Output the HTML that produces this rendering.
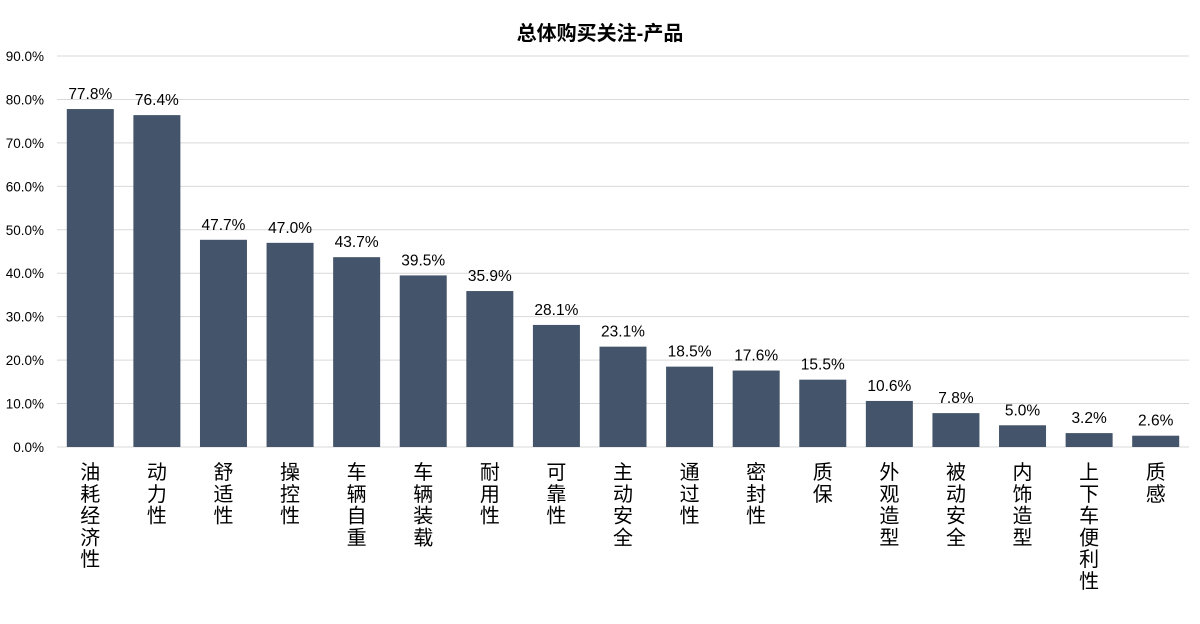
<!DOCTYPE html>
<html><head><meta charset="utf-8"><style>
body{margin:0;background:#fff}
svg text{font-family:"Liberation Sans","Noto Sans CJK SC",sans-serif;fill:#000}
</style></head><body>
<svg width="1200" height="619" xmlns="http://www.w3.org/2000/svg">
<rect width="1200" height="619" fill="#fff"/>
<text x="600" y="40" text-anchor="middle" font-size="20" font-weight="bold">总体购买关注-产品</text>
<g id="g"></g>
</svg>
<script>
const g=document.getElementById('g');
const ns='http://www.w3.org/2000/svg';
function el(t,a,txt){const e=document.createElementNS(ns,t);for(const k in a)e.setAttribute(k,a[k]);if(txt!=null)e.textContent=txt;g.appendChild(e);return e;}
const y0=447,per=43.44,L=57,R=1189;
for(let i=0;i<=9;i++){const y=y0-i*per;
 el('line',{x1:L,x2:R,y1:y,y2:y,stroke:'#d9d9d9','stroke-width':1});
 el('text',{x:44,y:y+5,'text-anchor':'end','font-size':13.5},(i*10).toFixed(1)+'%');}
const d=[["油耗经济性",77.8],["动力性",76.4],["舒适性",47.7],["操控性",47.0],["车辆自重",43.7],["车辆装载",39.5],["耐用性",35.9],["可靠性",28.1],["主动安全",23.1],["通过性",18.5],["密封性",17.6],["质保",15.5],["外观造型",10.6],["被动安全",7.8],["内饰造型",5.0],["上下车便利性",3.2],["质感",2.6]];
const w=(R-L)/d.length;
d.forEach((v,i)=>{const cx=L+w*i+w/2;const h=v[1]/10*per;
 el('rect',{x:cx-23.5,y:y0-h,width:47,height:h,fill:'#44546a'});
 el('text',{x:cx,y:y0-h-10,'text-anchor':'middle','font-size':15.5},v[1].toFixed(1)+'%');
 [...v[0]].forEach((c,j)=>el('text',{x:cx,y:479+j*21.8,'text-anchor':'middle','font-size':20},c));
});
</script>
</body></html>
